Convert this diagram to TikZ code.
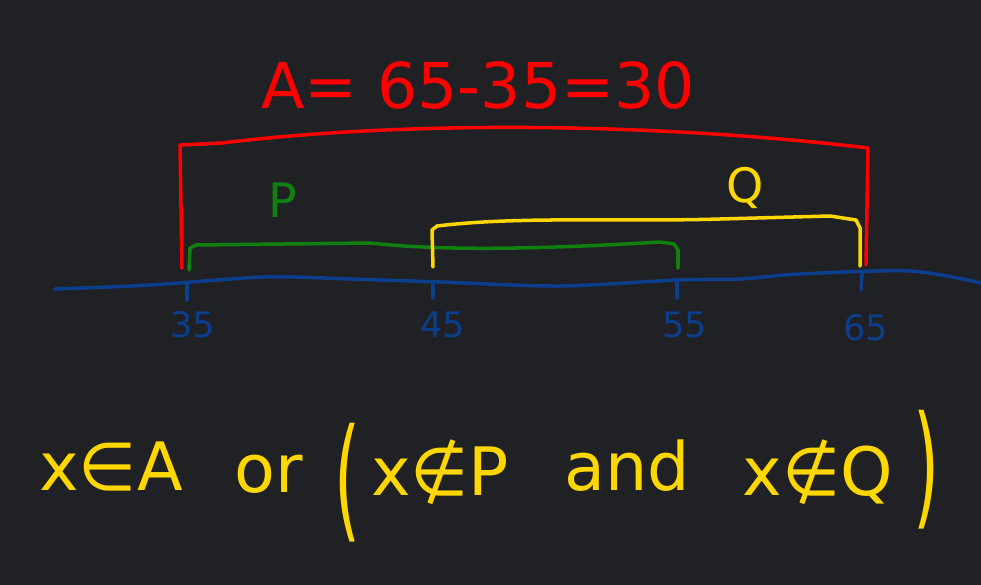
\documentclass[tikz,border=0pt]{standalone}
\usepackage{fontspec}
\setmainfont{DejaVu Sans}
\usepackage{graphicx}
\definecolor{board}{RGB}{32,33,36}
\definecolor{inkred}{RGB}{255,0,0}
\definecolor{inkgreen}{RGB}{16,128,16}
\definecolor{inkyellow}{RGB}{255,215,0}
\definecolor{inkblue}{RGB}{12,62,140}
\tikzset{
  pen/.style={line width=2pt, line cap=round, line join=round},
  tickmark/.style={font=\fontsize{20}{24}\selectfont, text=inkblue},
  formula/.style={font=\fontsize{38}{44}\selectfont, text=inkyellow, anchor=base},
}

\begin{document}
\begin{tikzpicture}[x=0.02cm, y=-0.02cm]
    % Board
    \path[use as bounding box, fill=board] (0,0) rectangle (981,585);

    % Number line
    \draw[pen, inkblue] plot[smooth, tension=0.5] coordinates {(55,289) (150,285) (265,277) (350,279) (440,282) (560,286) (677,280) (740,279) (800,274) (910,271) (981,283)};
    \draw[pen, inkblue] (187,283) -- (187,300);
    \draw[pen, inkblue] (433,282) -- (433,298);
    \draw[pen, inkblue] (677,280) -- (677,298);
    \draw[pen, inkblue] (862,272) -- (861,290);
    \node[tickmark] (n35) at (193,325) {35};
    \node[tickmark] (n45) at (443,325) {45};
    \node[tickmark] (n55) at (685,325) {55};
    \node[tickmark] (n65) at (866,328) {65};

    % Set A
    \draw[pen, inkred] (182,268) -- (180,145) -- (222,143) .. controls (400,121) and (650,122) .. (868,148) -- (866,265);
    \node[text=inkred, font=\fontsize{36}{40}\selectfont] (title) at (478,85) {A= 65-35=30};

    % Set P
    \draw[pen, inkgreen] (189,270) -- (190,248) -- (196,245) -- (370,243) .. controls (450,252) and (560,248) .. (660,242) -- (674,244) -- (678,250) -- (678,268);
    \node[text=inkgreen, font=\fontsize{27}{30}\selectfont] (labP) at (283,200) {P};

    % Set Q
    \draw[pen, inkyellow] (433,267) -- (432,230) -- (437,226) .. controls (520,216) and (620,222) .. (720,219) -- (830,216) -- (856,220) -- (860,228) -- (860,266);
    \node[text=inkyellow, font=\fontsize{27}{30}\selectfont] (labQ) at (745,188) {Q};

    % Condition
    \node[formula] (inA) at (111,490) {x∈A};
    \node[formula] (or) at (269,492) {or};
    \node[formula, anchor=center] (lpar) at (348,483) {\scalebox{1}[2]{(}};
    \node[formula] (notP) at (440,495) {x∉P};
    \node[formula] (and) at (627,490) {and};
    \node[formula] (notQ) at (818,495) {x∉Q};
    \node[formula, anchor=center] (rpar) at (927,470) {\scalebox{1}[2]{)}};
\end{tikzpicture}
\end{document}
